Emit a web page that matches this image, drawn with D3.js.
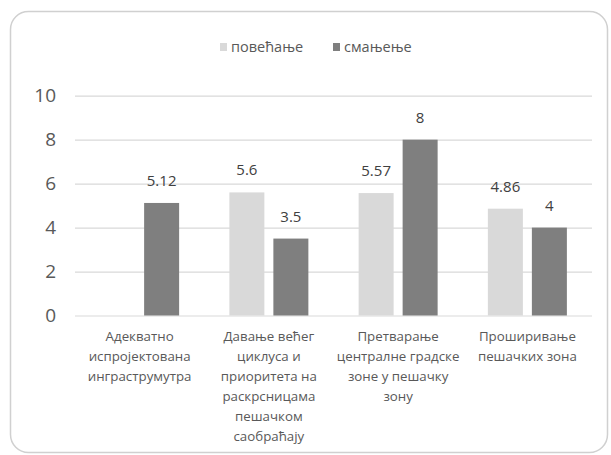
<!DOCTYPE html>
<html>
<head>
<meta charset="utf-8">
<script src="https://cdn.jsdelivr.net/npm/d3@7"></script>
<style>
  html, body { margin: 0; padding: 0; background: #ffffff; }
  svg { display: block; }
</style>
</head>
<body>
<svg id="chart" width="611" height="455"></svg>
<script>
// Categories (each label split into its wrapped lines)
const categories = [
  ["Адекватно", "испројектована", "инграструмутра"],
  ["Давање већег", "циклуса и", "приоритета на", "раскрсницама", "пешачком", "саобраћају"],
  ["Претварање", "централне градске", "зоне у пешачку", "зону"],
  ["Проширивање", "пешачких зона"]
];
const seriesNames = ["повећање", "смањење"];
const increaseValues = [null, 5.6, 5.57, 4.86];
const decreaseValues = [5.12, 3.5, 8, 4];
const yTicks = [0, 2, 4, 6, 8, 10];
const colors = ["#d9d9d9", "#7f7f7f"];

const svg = d3.select("#chart");
const font = "'Open Sans', 'Noto Sans', sans-serif";

// Outer chart frame
svg.append("rect")
  .attr("x", 10.5).attr("y", 11.5)
  .attr("width", 597).attr("height", 441)
  .attr("rx", 18).attr("ry", 18)
  .attr("fill", "#ffffff")
  .attr("stroke", "#d0d0d0")
  .attr("stroke-width", 1.5);

const plot = { left: 75, right: 592, top: 95.7, bottom: 315.5 };

const catIdx = categories.map((_, i) => i);
const x0 = d3.scaleBand().domain(catIdx).range([plot.left, plot.right]).padding(0);
const bw = x0.bandwidth();
const x1 = d3.scaleBand().domain(seriesNames)
  .range([bw / 2 - 39.5, bw / 2 + 39.5])
  .paddingInner(0.2045).paddingOuter(0);
const y = d3.scaleLinear().domain([0, 10]).range([plot.bottom, plot.top]);

// Horizontal gridlines and y-axis labels
const yAxis = d3.axisLeft(y).tickValues(yTicks).tickSize(-(plot.right - plot.left)).tickPadding(19);
const gy = svg.append("g").attr("transform", `translate(${plot.left},0)`).call(yAxis);
gy.select(".domain").remove();
gy.selectAll(".tick line").attr("stroke", "#d9d9d9").attr("stroke-width", 1.2);
gy.selectAll(".tick text")
  .attr("fill", "#595959")
  .style("font-family", font)
  .style("font-size", "19px");

// Bars
const rows = catIdx.map(i => ({ i, values: [increaseValues[i], decreaseValues[i]] }));
const groups = svg.append("g").selectAll("g").data(rows).join("g")
  .attr("transform", d => `translate(${x0(d.i)},0)`);

const cells = groups.selectAll("g.cell")
  .data(d => d.values.map((v, k) => ({ v, k })).filter(e => e.v !== null))
  .join("g").attr("class", "cell");

cells.append("rect")
  .attr("x", d => x1(seriesNames[d.k]))
  .attr("width", x1.bandwidth())
  .attr("y", d => y(d.v))
  .attr("height", d => y(0) - y(d.v))
  .attr("fill", d => colors[d.k]);

// Value labels above bars
cells.append("text")
  .attr("x", d => x1(seriesNames[d.k]) + x1.bandwidth() / 2)
  .attr("y", d => y(d.v) - 17)
  .attr("text-anchor", "middle")
  .attr("fill", "#404040")
  .style("font-family", font)
  .style("font-size", "15px")
  .text(d => String(d.v));

// Category labels, wrapped onto several lines
const catLabels = svg.append("g").selectAll("text").data(rows).join("text")
  .attr("text-anchor", "middle")
  .attr("fill", "#595959")
  .style("font-family", font)
  .style("font-size", "13.3px")
  .attr("transform", d => `translate(${x0(d.i) + bw / 2},341)`);
catLabels.selectAll("tspan").data(d => categories[d.i]).join("tspan")
  .attr("x", 0)
  .attr("y", (d, j) => j * 20)
  .text(d => d);

// Legend
const legend = svg.append("g").attr("transform", "translate(220,47)");
const legendX = [0, 113];
seriesNames.forEach((name, k) => {
  const g = legend.append("g").attr("transform", `translate(${legendX[k]},0)`);
  g.append("rect").attr("x", 0).attr("y", -4).attr("width", 7).attr("height", 8).attr("fill", colors[k]);
  g.append("text")
    .attr("x", 11).attr("y", 5)
    .attr("fill", "#595959")
    .style("font-family", font)
    .style("font-size", "14.5px")
    .text(name);
});
</script>
</body>
</html>
